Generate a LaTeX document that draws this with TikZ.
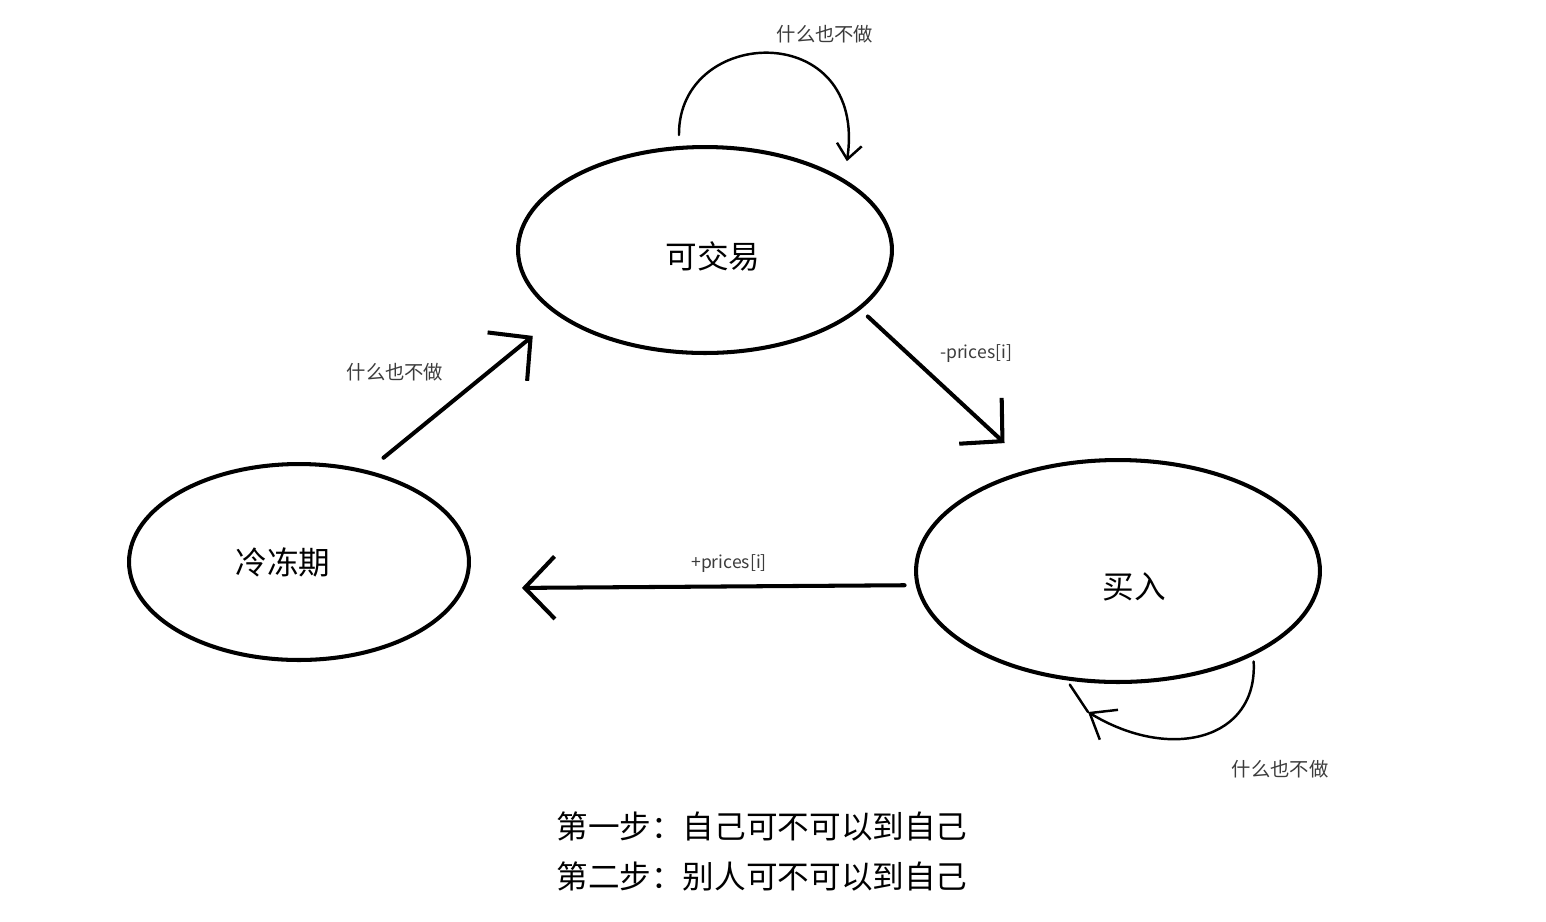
\documentclass[tikz,border=0pt]{standalone}
\usepackage{fontspec}
\setmainfont{Noto Sans CJK SC}
\usetikzlibrary{shapes.geometric,arrows.meta}
\definecolor{labelgray}{HTML}{3C3C3C}

\begin{document}
\begin{tikzpicture}[x=0.02cm, y=0.02cm,
  state/.style={ellipse, draw, line width=2.3pt, inner sep=0pt},
  statename/.style={font=\fontsize{18}{20}\selectfont},
  pen/.style={line width=2.3pt, line cap=round, line join=round},
  thinpen/.style={line width=1.4pt, line cap=round, line join=round},
  bigbarb/.style={-{Straight Barb[length=0.6cm,width=1.25cm]}},
  smallbarb/.style={-{Straight Barb[length=0.3cm,width=0.5cm]}},
  midbarb/.style={-{Straight Barb[length=0.45cm,width=0.7cm]}},
  note/.style={text=labelgray, font=\fontsize{11}{13}\selectfont},
  price/.style={text=labelgray, font=\fontsize{10}{12}\selectfont},
  steptext/.style={font=\fontsize{18}{20}\selectfont}]

\useasboundingbox (0,0) rectangle (1546,-921);

% ---------- STATES ----------
\node[state, minimum width=7.48cm, minimum height=4.12cm,
  label={[statename,xshift=0.16cm,yshift=-0.12cm]center:可交易}] (trade) at (705,-250) {};
\node[state, minimum width=6.8cm, minimum height=3.92cm,
  label={[statename,xshift=-0.32cm]center:冷冻期}] (cold) at (299,-562) {};
\node[state, minimum width=8.08cm, minimum height=4.44cm,
  label={[statename,xshift=0.32cm,yshift=-0.32cm]center:买入}] (buy) at (1118,-571) {};

% ---------- TRANSITIONS ----------
\draw[pen,bigbarb,shorten <=0.4cm,shorten >=0.64cm] (cold.53) -- (trade.204);
\draw[pen,bigbarb,shorten <=0.2cm,shorten >=0.75cm] (trade.-21) -- (buy.130);
\draw[pen,bigbarb,shorten <=0.22cm,shorten >=1.14cm] (buy.184) -- (cold.-9);

% Self loops
\draw[thinpen,smallbarb,shorten <=0.22cm,shorten >=0.36cm]
  (trade.104) .. controls (678,-25) and (868,-18) .. (trade.27);
\coordinate (loopEnd) at (1088,-712);
\draw[thinpen,midbarb,shorten <=0.12cm]
  (buy.-32) .. controls (1258,-740) and (1170,-762) .. (loopEnd);
\draw[thinpen,shorten >=0.1cm] (loopEnd) -- (buy.-115);

% ---------- LABELS ----------
\node[note] (idleTrade) at (825,-34) {什么也不做};
\node[note] (idleCold) at (395,-372) {什么也不做};
\node[note] (idleBuy) at (1280,-769) {什么也不做};
\node[price] (minusPrice) at (976,-354) {-prices[i]};
\node[price] (plusPrice) at (729,-564) {+prices[i]};

% ---------- STEPS ----------
\node[steptext] (stepOne) at (762,-826) {第一步：自己可不可以到自己};
\node[steptext] (stepTwo) at (762,-876) {第二步：别人可不可以到自己};

\end{tikzpicture}
\end{document}
